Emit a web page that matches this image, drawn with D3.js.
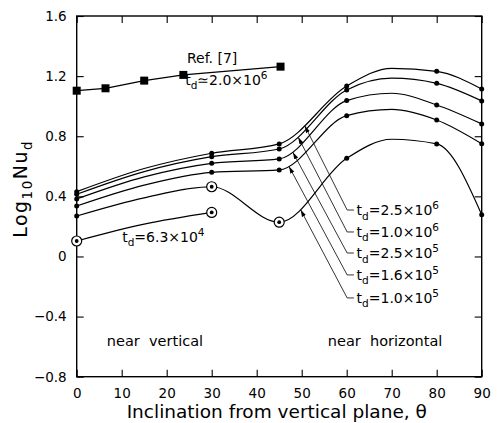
<!DOCTYPE html>
<html>
<head>
<meta charset="utf-8">
<script src="https://cdn.jsdelivr.net/npm/d3@7"></script>
<style>
  html, body { margin: 0; padding: 0; background: #fff; }
  svg { display: block; font-family: "DejaVu Sans", Verdana, sans-serif; }
</style>
</head>
<body>
<div id="chart"></div>
<script>
const angles = [0, 15, 30, 45, 60, 70, 80, 90];
const markedAngles = [0, 30, 45, 60, 80, 90];

// log10 Nu_d for each t_d series
const td25e6 = [0.431, 0.585, 0.687, 0.749, 1.134, 1.252, 1.232, 1.114];
const td10e6 = [0.414, 0.565, 0.664, 0.715, 1.108, 1.186, 1.152, 1.035];
const td25e5 = [0.383, 0.530, 0.620, 0.649, 1.037, 1.086, 1.008, 0.882];
const td16e5 = [0.336, 0.475, 0.560, 0.576, 0.937, 0.979, 0.908, 0.750];
const td10e5 = [0.269, 0.390, 0.464, 0.228, 0.653, 0.780, 0.749, 0.278];
const td10e5Ringed = [30, 45];

const td63e4Angles = [0, 15, 30];
const td63e4 = [0.103, 0.215, 0.293];
const td63e4Marked = [0, 30];

// Ref. [7]
const refAngles = [0, 6.4, 15, 23.7, 45.3];
const refValues = [1.103, 1.119, 1.170, 1.208, 1.263];

const xTicks = [0, 10, 20, 30, 40, 50, 60, 70, 80, 90];
const yTicks = [-0.8, -0.4, 0, 0.4, 0.8, 1.2, 1.6];

// right-hand labels: mantissa, exponent, label height, where the arrow hits
const tdLabels = [
    { mant: '2.5', exp: '6', y: 0.309, tipX: 50.7, series: td25e6 },
    { mant: '1.0', exp: '6', y: 0.163, tipX: 49.2, series: td10e6 },
    { mant: '2.5', exp: '5', y: 0.023, tipX: 48.0, series: td25e5 },
    { mant: '1.6', exp: '5', y: -0.123, tipX: 47.2, series: td16e5 },
    { mant: '1.0', exp: '5', y: -0.276, tipX: 49.8, series: td10e5 }
];

const W = 497, H = 423;
const margin = { top: 16, right: 15.3, bottom: 46.3, left: 76.7 };

const svg = d3.select('#chart').append('svg')
    .attr('width', W)
    .attr('height', H);

const x = d3.scaleLinear().domain([0, 90]).range([margin.left, W - margin.right]);
const y = d3.scaleLinear().domain([-0.8, 1.6]).range([H - margin.bottom, margin.top]);

svg.append('defs').append('marker')
    .attr('id', 'arrow')
    .attr('markerUnits', 'userSpaceOnUse')
    .attr('viewBox', '0 -3 7 6')
    .attr('refX', 7)
    .attr('refY', 0)
    .attr('markerWidth', 7)
    .attr('markerHeight', 6)
    .attr('orient', 'auto')
    .append('path')
    .attr('d', 'M0,-2.2L7,0L0,2.2Z')
    .attr('fill', '#000');

// Axes, ticks point inwards on all four sides
function styleAxis(g) {
    g.select('.domain').remove();
    g.selectAll('line').attr('stroke', '#000').attr('stroke-width', 1.1);
    g.selectAll('text')
        .attr('fill', '#000')
        .attr('font-family', '"DejaVu Sans", Verdana, sans-serif')
        .attr('font-size', 13.5);
}

svg.append('g')
    .attr('transform', `translate(0,${y(-0.8)})`)
    .call(d3.axisBottom(x).tickValues(xTicks).tickSizeInner(-7).tickSizeOuter(0).tickPadding(11.5))
    .call(styleAxis);

svg.append('g')
    .attr('transform', `translate(0,${y(1.6)})`)
    .call(d3.axisTop(x).tickValues(xTicks).tickSizeInner(-7).tickSizeOuter(0).tickFormat(''))
    .call(styleAxis);

svg.append('g')
    .attr('transform', `translate(${x(0)},0)`)
    .call(d3.axisLeft(y).tickValues(yTicks).tickSizeInner(-7).tickSizeOuter(0).tickPadding(10)
        .tickFormat(d => d === 0 ? '0' : d3.format('.1f')(d)))
    .call(styleAxis);

svg.append('g')
    .attr('transform', `translate(${x(90)},0)`)
    .call(d3.axisRight(y).tickValues(yTicks).tickSizeInner(-7).tickSizeOuter(0).tickFormat(''))
    .call(styleAxis);

svg.append('rect')
    .attr('x', x(0))
    .attr('y', y(1.6))
    .attr('width', x(90) - x(0))
    .attr('height', y(-0.8) - y(1.6))
    .attr('fill', 'none')
    .attr('stroke', '#000')
    .attr('stroke-width', 1.4);

// Axis titles
svg.append('text')
    .attr('x', x(11.1))
    .attr('y', 418)
    .attr('font-size', 18.5)
    .text('Inclination from vertical plane, θ');

const yTitle = svg.append('text')
    .attr('transform', `translate(27,${y(0.45)}) rotate(-90)`)
    .attr('text-anchor', 'middle')
    .attr('font-size', 19)
    .attr('letter-spacing', 1.5);
yTitle.append('tspan').text('Log');
yTitle.append('tspan').attr('dy', 5).attr('font-size', 13.5).text('10');
yTitle.append('tspan').attr('dy', -5).text('Nu');
yTitle.append('tspan').attr('dy', 5).attr('font-size', 13.5).text('d');

// Curves
const smooth = d3.line()
    .x(d => x(d[0]))
    .y(d => y(d[1]))
    .curve(d3.curveMonotoneX);

const straight = d3.line()
    .x(d => x(d[0]))
    .y(d => y(d[1]));

const plot = svg.append('g');
const seriesList = [td25e6, td10e6, td25e5, td16e5, td10e5];
const curvePaths = new Map();

seriesList.forEach(vals => {
    const pts = angles.map((a, i) => [a, vals[i]]);
    const p = plot.append('path')
        .attr('d', smooth(pts))
        .attr('fill', 'none')
        .attr('stroke', '#000')
        .attr('stroke-width', 1.2);
    curvePaths.set(vals, p.node());
});

const lowPts = td63e4Angles.map((a, i) => [a, td63e4[i]]);
plot.append('path')
    .attr('d', smooth(lowPts))
    .attr('fill', 'none')
    .attr('stroke', '#000')
    .attr('stroke-width', 1.2);

const refPts = refAngles.map((a, i) => [a, refValues[i]]);
plot.append('path')
    .attr('d', straight(refPts))
    .attr('fill', 'none')
    .attr('stroke', '#000')
    .attr('stroke-width', 1.3);

// Markers
function ringed(g, pts) {
    g.selectAll(null).data(pts).join('circle')
        .attr('cx', d => x(d[0])).attr('cy', d => y(d[1]))
        .attr('r', 5).attr('fill', '#fff').attr('stroke', '#000').attr('stroke-width', 1.2);
    g.selectAll(null).data(pts).join('circle')
        .attr('cx', d => x(d[0])).attr('cy', d => y(d[1]))
        .attr('r', 1.9).attr('fill', '#000');
}

seriesList.forEach(vals => {
    const pts = angles.map((a, i) => [a, vals[i]]).filter(d => markedAngles.includes(d[0]));
    const isRing = d => vals === td10e5 && td10e5Ringed.includes(d[0]);
    plot.append('g').selectAll('circle')
        .data(pts.filter(d => !isRing(d)))
        .join('circle')
        .attr('cx', d => x(d[0])).attr('cy', d => y(d[1]))
        .attr('r', 2.5).attr('fill', '#000');
    ringed(plot.append('g'), pts.filter(isRing));
});
ringed(plot.append('g'), lowPts.filter(d => td63e4Marked.includes(d[0])));

plot.append('g').selectAll('rect')
    .data(refPts)
    .join('rect')
    .attr('x', d => x(d[0]) - 4).attr('y', d => y(d[1]) - 4)
    .attr('width', 8).attr('height', 8)
    .attr('fill', '#000');

// t_d label helper
function tdText(g, px, py, sym, mant, exp) {
    const t = g.append('text').attr('x', px).attr('y', py).attr('font-size', 14);
    t.append('tspan').text('t');
    t.append('tspan').attr('dy', 4.5).attr('font-size', 10.5).text('d');
    t.append('tspan').attr('dy', -4.5).text(sym + mant + '×10');
    t.append('tspan').attr('dy', -6).attr('font-size', 10.5).text(exp);
    return t;
}

const notes = svg.append('g').attr('fill', '#000');

notes.append('text')
    .attr('x', x(24.5)).attr('y', y(1.288))
    .attr('font-size', 14)
    .text('Ref. [7]');
tdText(notes, x(24.1), y(1.141), '≃', '2.0', '6');
tdText(notes, x(10.1), y(0.098), '=', '6.3', '4');

notes.append('text')
    .attr('x', x(6.7)).attr('y', y(-0.595))
    .attr('font-size', 14.5)
    .style('white-space', 'pre')
    .text('near  vertical');
notes.append('text')
    .attr('x', x(55.8)).attr('y', y(-0.595))
    .attr('font-size', 14.5)
    .style('white-space', 'pre')
    .text('near  horizontal');

// Leader lines with arrows pointing at the curves
function pointOnCurve(node, px) {
    const len = node.getTotalLength();
    let best = node.getPointAtLength(0);
    for (let s = 0; s <= len; s += 0.5) {
        const p = node.getPointAtLength(s);
        if (Math.abs(p.x - px) < Math.abs(best.x - px)) best = p;
    }
    return best;
}

tdLabels.forEach(d => {
    const tip = pointOnCurve(curvePaths.get(d.series), x(d.tipX));
    const ly = y(d.y);
    notes.append('path')
        .attr('d', `M${x(61.6)},${ly}L${x(60.1)},${ly}L${tip.x},${tip.y}`)
        .attr('fill', 'none')
        .attr('stroke', '#000')
        .attr('stroke-width', 0.8)
        .attr('marker-end', 'url(#arrow)');
    tdText(notes, x(62.2), ly + 5, '=', d.mant, d.exp);
});
</script>
</body>
</html>
